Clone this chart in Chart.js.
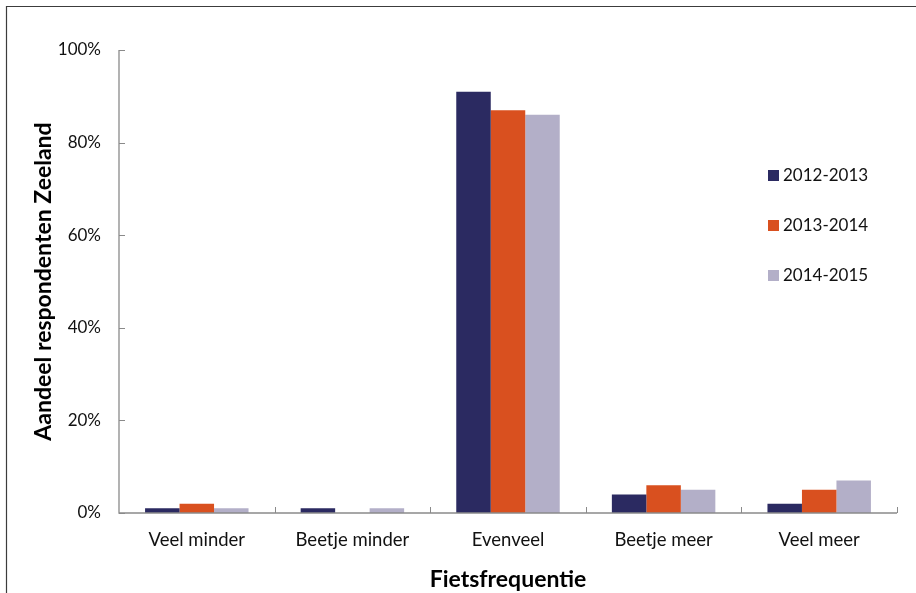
<!DOCTYPE html>
<html>
<head>
<meta charset="utf-8">
<script src="https://cdn.jsdelivr.net/npm/chart.js@4.4.1/dist/chart.umd.min.js"></script>
<style>
  html, body { margin: 0; padding: 0; background: #fff; }
  #wrap { position: relative; width: 916px; height: 593px; }
</style>
</head>
<body>
<div id="wrap"><canvas id="c" width="916" height="593"></canvas></div>
<script>
// Fietsfrequentie per seizoen, aandeel respondenten in procenten
const categories = ['Veel minder', 'Beetje minder', 'Evenveel', 'Beetje meer', 'Veel meer'];
const seriesNames = ['2012-2013', '2013-2014', '2014-2015'];
const values2012 = [1, 1, 91, 4, 2];
const values2013 = [2, 0, 87, 6, 5];
const values2014 = [1, 1, 86, 5, 7];
const seriesColors = ['#2b2a61', '#d9501f', '#b3afc8'];
const yTicks = [0, 20, 40, 60, 80, 100];

const FONT = 'Lato, "Open Sans", sans-serif';
const AXIS_COLOR = '#8a8a8a';

// Axis lines, inward tick marks, outer frame and legend
const decorations = {
  id: 'decorations',
  beforeDraw(chart) {
    const ctx = chart.ctx;
    ctx.save();
    ctx.fillStyle = '#fff';
    ctx.fillRect(0, 0, chart.width, chart.height);
    ctx.strokeStyle = '#3c3c3c';
    ctx.lineWidth = 1.2;
    ctx.beginPath();
    ctx.moveTo(6.5, chart.height + 2);
    ctx.lineTo(6.5, 6.5);
    ctx.lineTo(chart.width + 2, 6.5);
    ctx.stroke();
    ctx.restore();
  },
  afterDatasetsDraw(chart) {
    const ctx = chart.ctx;
    const {left, right, top, bottom} = chart.chartArea;
    const y = chart.scales.y;
    ctx.save();
    ctx.strokeStyle = AXIS_COLOR;
    ctx.lineWidth = 1.3;
    ctx.beginPath();
    ctx.moveTo(left, top);
    ctx.lineTo(left, bottom);
    ctx.lineTo(right, bottom);
    ctx.stroke();
    ctx.lineWidth = 1;
    ctx.beginPath();
    yTicks.forEach(v => {
      const py = Math.round(y.getPixelForValue(v)) + 0.5;
      ctx.moveTo(left, py);
      ctx.lineTo(left + 6, py);
    });
    const n = categories.length;
    for (let i = 1; i <= n; i++) {
      const px = Math.round(left + (right - left) * i / n) + 0.5;
      ctx.moveTo(px, bottom);
      ctx.lineTo(px, bottom - 6);
    }
    ctx.stroke();

    // legend
    ctx.font = '17px ' + FONT;
    ctx.textBaseline = 'middle';
    ctx.textAlign = 'left';
    chart.data.datasets.forEach((ds, i) => {
      const cy = 175 + i * 50;
      ctx.fillStyle = ds.backgroundColor;
      ctx.fillRect(768, cy - 5, 11, 11);
      ctx.fillStyle = '#111';
      ctx.fillText(ds.label, 783, cy + 1);
    });
    ctx.restore();
  }
};

const datasets = [values2012, values2013, values2014].map((vals, i) => ({
  label: seriesNames[i],
  data: vals,
  backgroundColor: seriesColors[i],
  borderWidth: 0,
  categoryPercentage: 0.665,
  barPercentage: 1.0
}));

new Chart(document.getElementById('c'), {
  type: 'bar',
  data: { labels: categories, datasets },
  options: {
    responsive: false,
    animation: false,
    devicePixelRatio: 1,
    layout: { padding: { left: 0, right: 19, top: 50, bottom: 0 } },
    plugins: {
      legend: { display: false },
      tooltip: { enabled: false }
    },
    scales: {
      x: {
        grid: { display: false },
        border: { display: false },
        ticks: {
          color: '#111',
          font: { family: FONT, size: 18.5 },
          padding: 8
        },
        title: {
          display: true,
          text: 'Fietsfrequentie',
          color: '#000',
          font: { family: FONT, size: 23, weight: 'bold' },
          padding: { top: 10, bottom: 0 }
        },
        afterFit(scale) { scale.height = 80; }
      },
      y: {
        min: 0,
        max: 100,
        afterBuildTicks(scale) { scale.ticks = yTicks.map(v => ({ value: v })); },
        grid: { display: false },
        border: { display: false },
        ticks: {
          color: '#111',
          font: { family: FONT, size: 17 },
          padding: 10,
          callback: v => v + '%'
        },
        title: {
          display: true,
          text: 'Aandeel respondenten Zeeland',
          color: '#000',
          font: { family: FONT, size: 23, weight: 'bold' },
          padding: { top: 30, bottom: 0 }
        },
        afterFit(scale) { scale.width = 119; }
      }
    }
  },
  plugins: [decorations]
});
</script>
</body>
</html>
